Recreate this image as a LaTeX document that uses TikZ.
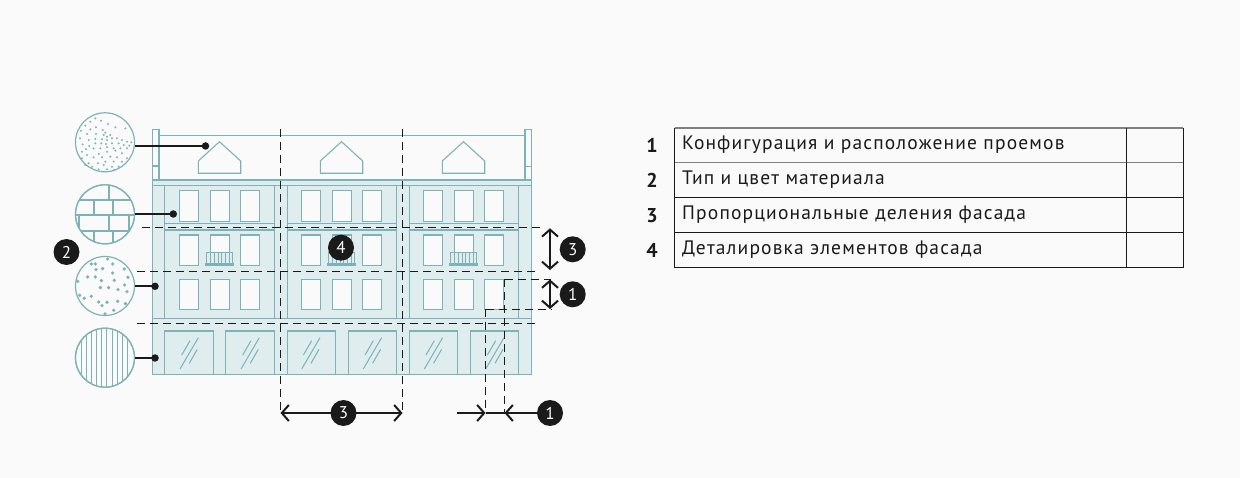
\documentclass[tikz,border=0pt]{standalone}
\usepackage{fontspec}
\setmainfont{PT Sans}
\newfontfamily\din{PT Sans}[LetterSpace=5.9]
\usetikzlibrary{arrows.meta}
\definecolor{bgc}{HTML}{FAFAFA}
\definecolor{teal1}{HTML}{7DB3B8}
\definecolor{fillc}{HTML}{E0EDEF}
\definecolor{inkc}{HTML}{1A1A1A}
\definecolor{tabgrey}{HTML}{808080}
\tikzset{
 tl/.style={draw=teal1,line width=1.1pt},
 fl/.style={tl,fill=fillc},
 win/.style={tl,fill=bgc},
 dashln/.style={draw=inkc,line width=1pt,dash pattern=on 8pt off 5pt},
 lead/.style={draw=inkc,line width=1.7pt},
 dotend/.style={circle,fill=inkc,inner sep=0pt,minimum size=7.5pt},
 dimarrow/.style={draw=inkc,line width=2pt,{Straight Barb[length=7pt,width=16pt,line width=2pt]}-{Straight Barb[length=7pt,width=16pt,line width=2pt]}},
 dimone/.style={draw=inkc,line width=2pt,-{Straight Barb[length=7pt,width=16pt,line width=2pt]}},
 badge/.style={circle,fill=inkc,text=white,inner sep=0pt,minimum size=26pt,font=\fontsize{17}{17}\selectfont},
 tabtxt/.style={anchor=base west,inner sep=0pt,text=inkc,font=\din\fontsize{19.5}{19.5}\selectfont},
 tabnum/.style={anchor=base,inner sep=0pt,text=inkc,font=\fontsize{20}{20}\selectfont\bfseries},
 tdot/.style={fill=teal1},
}
\begin{document}
\begin{tikzpicture}[x=1pt,y=-1pt]
\useasboundingbox[fill=bgc] (0,0) rectangle (1240,478);
% chimneys and roof
\draw[tl] (159,135.5) -- (525,135.5);
\draw[tl] (152.5,180) -- (152.5,129.5) -- (159,129.5) -- (159,180);
\draw[tl] (152.5,166) -- (159,166);
\draw[tl] (525,180) -- (525,129.5) -- (531.5,129.5) -- (531.5,180);
\draw[tl] (525,166.5) -- (531.5,166.5);
% body
\path[fl] (152.5,180) rectangle (531.5,374.5);
\draw[tl] (152.5,185.5) -- (531.5,185.5);
\draw[tl] (152.5,318.5) -- (531.5,318.5);
\foreach \x in {164.3,274.5,287.3,396.7,409.3,518.3}{\draw[tl] (\x,185.5) -- (\x,318.5);}
\foreach \a/\b in {164.3/274.5,287.3/396.7,409.3/518.3}{
  \draw[tl] (\a,223.3) -- (\b,223.3);
  \draw[tl] (\a,230) -- (\b,230);
}
\foreach \s in {0,122,244}{
 \begin{scope}[xshift=\s pt]
 % dormer
 \draw[tl] (198.3,173.3) -- (198.3,161) -- (219.5,141.7) -- (240.7,161) -- (240.7,173.3) -- cycle;
 % windows
 \foreach \a/\b in {179.3/198.7,210.3/229.7,240.3/259.7}{
  \foreach \t/\u in {190.5/221.5,235/265.5,279.3/309.3}{
   \draw[win] (\a,\t) rectangle (\b,\u);
  }}
 % balcony
 \path[fill=fillc] (206.3,252.3) rectangle (232.7,263);
 \draw[draw=teal1,line width=.8pt] (206.3,263) -- (206.3,252.5) -- (232.7,252.5) -- (232.7,263);
 \foreach \x in {210.3,214.1,217.9,221.7,225.5,229.3}{\draw[teal1,line width=.8pt] (\x,252.5) -- (\x,263);}
 \path[fill=teal1] (205,263) rectangle (234,266.5);
 \end{scope}
}
% shops
\foreach \a/\b/\s in {164.3/213.7/0,225.3/274.5/61,287.3/335.7/121.7,348.3/396.7/183.3,409.3/457.7/244.3,470.3/518.3/305.7}{
 \draw[tl] (\a,374.5) -- (\a,331) -- (\b,331) -- (\b,374.5);
 \begin{scope}[xshift=\s pt]
  \draw[teal1,line width=1pt] (181.7,355) -- (190,340.7);
  \draw[teal1,line width=1pt] (180,369) -- (198.3,337.7);
  \draw[teal1,line width=1pt] (189.3,363.3) -- (197.3,349.3);
 \end{scope}
}
% dashed guides
\coordinate (v1t) at (280.5,129);
\coordinate (v1b) at (280.5,412.5);
\coordinate (v2t) at (402.5,129);
\coordinate (v2b) at (402.5,412.5);
\coordinate (v3t) at (485.5,309.3);
\coordinate (v3b) at (485.5,412.5);
\coordinate (v4t) at (504.5,279.3);
\coordinate (v4b) at (504.5,412.5);
\draw[dashln] (v1t) -- (v1b);
\draw[dashln] (v2t) -- (v2b);
\draw[dashln] (v3t) -- (v3b);
\draw[dashln] (v4t) -- (v4b);
\coordinate (h1l) at (142,227.5);
\coordinate (h1r) at (541,227.5);
\coordinate (h2l) at (137,271.3);
\coordinate (h2r) at (536,271.3);
\coordinate (h3l) at (137,324);
\coordinate (h3r) at (536,324);
\coordinate (h4r) at (551,279.3);
\coordinate (h5r) at (551,309.3);
\draw[dashln] (h1l) -- (h1r);
\draw[dashln] (h2l) -- (h2r);
\draw[dashln] (h3l) -- (h3r);
\draw[dashln] (v4t) -- (h4r);
\draw[dashln] (v3t) -- (h5r);
% texture circles
\node[circle,inner sep=0pt,minimum size=59pt,draw=teal1,line width=1.2pt,fill=bgc] (c1) at (105,142.3) {};
\node[circle,inner sep=0pt,minimum size=59pt,draw=teal1,line width=1.2pt,fill=bgc] (c2) at (105,214.3) {};
\node[circle,inner sep=0pt,minimum size=59pt,draw=teal1,line width=1.2pt,fill=bgc] (c3) at (105,286) {};
\node[circle,inner sep=0pt,minimum size=59pt,draw=teal1,line width=1.2pt,fill=bgc] (c4) at (105,357.7) {};
\begin{scope}[shift={(72,110)},x=.3333pt,y=-.3333pt]
\foreach \p in {(70,25),(87,32),(108,42),(55,35),(40,47),(27,62),(72,52),(55,58),(45,72),(72,72),(24,85),(92,60),(100,68),(115,75),(95,75),(105,80),(120,85),(135,85),(150,90),(165,95),(178,97),(160,55),(130,52),(90,88),(105,90),(70,87),(50,90),(32,103),(52,108),(70,100),(88,100),(102,102),(120,100),(140,100),(155,105),(172,107),(42,118),(65,115),(85,115),(105,112),(125,115),(145,115),(165,115),(30,125),(80,132),(105,125),(130,122),(150,130),(45,135),(65,142),(90,142),(115,140),(135,142),(165,145),(30,145),(50,160),(78,160),(100,155),(125,155),(150,155),(60,170),(95,165),(120,170),(140,170),(80,178),(105,178),(125,180),(40,165)}{
 \fill[tdot] \p circle[radius=3.3];
}
\end{scope}
\begin{scope}[shift={(72,253)},x=.3333pt,y=-.3333pt]
\foreach \p in {(107,18),(122,33),(70,33),(58,33),(72,50),(92,47),(122,60),(157,48),(47,72),(70,72),(88,83),(127,82),(168,73),(17,85),(85,104),(110,104),(138,110),(158,96),(165,116),(23,127),(37,136),(58,130),(80,147),(90,158),(105,148),(137,145),(160,152),(125,172),(99,183)}{
 \fill[tdot] \p circle[radius=5.5];
}
\end{scope}
\begin{scope}
\clip (105,214.3) circle[radius=29.5];
\begin{scope}[shift={(72,181)},x=.3333pt,y=-.3333pt]
\draw[teal1,line width=1.7pt] (0,57) -- (198,57) (0,102) -- (198,102) (0,150) -- (198,150);
\draw[teal1,line width=1.7pt] (110,0) -- (110,57) (65,57) -- (65,102) (122,57) -- (122,102) (20,102) -- (20,150) (112,102) -- (112,150) (172,102) -- (172,150) (65,150) -- (65,198) (122,150) -- (122,198);
\end{scope}
\end{scope}
\begin{scope}
\clip (105,357.7) circle[radius=29.5];
\foreach \x in {81.3,86.3,91.3,96.3,101.3,106.7,112,117,122,127}{\draw[teal1,line width=1pt] (\x,325) -- (\x,391);}
\end{scope}
\draw[draw=teal1,line width=1.2pt] (c2) circle[radius=29.5];
\draw[draw=teal1,line width=1.2pt] (c4) circle[radius=29.5];
% leaders
\node[dotend] (d1) at (205.5,146) {};
\node[dotend] (d2) at (173.3,214) {};
\node[dotend] (d3) at (155,286.3) {};
\node[dotend] (d4) at (155,358) {};
\draw[lead] (d1.center) -- (d1.center -| c1.east);
\draw[lead] (d2.center) -- (d2.center -| c2.east);
\draw[lead] (d3.center) -- (d3.center -| c3.east);
\draw[lead] (d4.center) -- (d4.center -| c4.east);
% dimension arrows
\coordinate (a3t) at (550,228.3);
\coordinate (a3b) at (550,270);
\coordinate (a1t) at (550,279.5);
\coordinate (a1b) at (550,309);
\draw[dimarrow] (a3t) -- (a3b);
\draw[dimarrow] (a1t) -- (a1b);
\coordinate (ah3l) at (280.5,413);
\coordinate (ah3r) at (402.5,413);
\draw[dimarrow] (ah3l) -- (ah3r);
\coordinate (ah1l) at (457,413);
\coordinate (ah1a) at (485.5,413);
\coordinate (ah1b) at (504.5,413);
\draw[dimone] (ah1l) -- (ah1a);
\draw[draw=inkc,line width=2pt] (ah1a) -- (ah1b);
% badges
\node[badge] (b2) at (66.5,252) {2};
\node[badge] (b4) at (341,247.7) {4};
\node[badge] (b3a) at (572.7,249.3) {3};
\node[badge] (b1a) at (572.7,294.3) {1};
\node[badge] (b3b) at (343.5,413) {3};
\node[badge] (b1b) at (550,413) {1};
\draw[dimone] (b1b) -- (ah1b);
% table
\draw[tabgrey,line width=1.3pt] (674.5,128) -- (1183,128);
\draw[tabgrey,line width=1.2pt] (674.5,162.5) -- (1183,162.5);
\draw[inkc,line width=1pt] (674.5,197.5) -- (1183,197.5);
\draw[inkc,line width=1pt] (674.5,232.5) -- (1183,232.5);
\draw[inkc,line width=1pt] (674.5,268) -- (1183,268);
\draw[inkc,line width=1pt] (674.5,128) -- (674.5,268);
\draw[inkc,line width=1pt] (1126.7,128) -- (1126.7,268);
\draw[inkc,line width=1pt] (1183,128) -- (1183,268);
\node[tabtxt] (t1) at (682,150) {Конфигурация и расположение проемов};
\node[tabtxt] (t2) at (682,185) {Тип и цвет материала};
\node[tabtxt] (t3) at (682,220) {Пропорциональные деления фасада};
\node[tabtxt] (t4) at (682,255) {Деталировка элементов фасада};
\node[tabnum] (n1) at (652,153) {1};
\node[tabnum] (n2) at (652,188) {2};
\node[tabnum] (n3) at (652,223) {3};
\node[tabnum] (n4) at (652,258) {4};
\end{tikzpicture}
\end{document}
